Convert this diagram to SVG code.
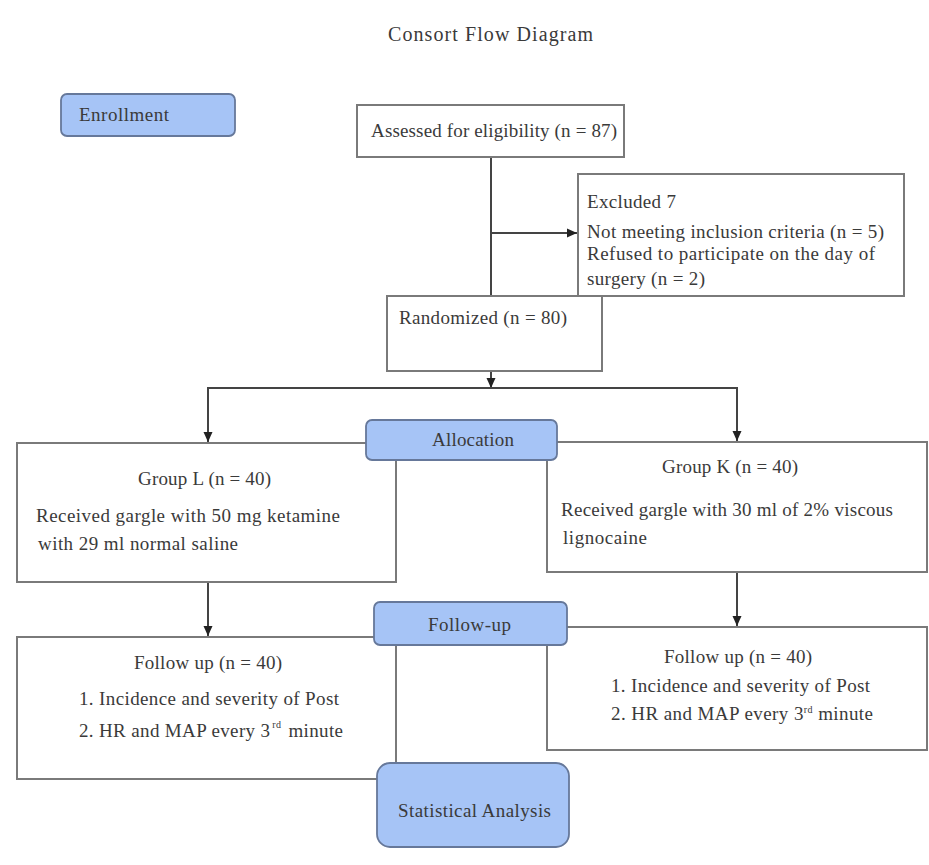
<svg xmlns="http://www.w3.org/2000/svg" width="929" height="865" viewBox="0 0 929 865">
<defs>
<marker id="ah" markerUnits="userSpaceOnUse" markerWidth="10" markerHeight="10" refX="10" refY="5" orient="auto">
<path d="M0,0.5 L10,5 L0,9.5 z" fill="#222"/>
</marker>
<style>
text{font-family:"Liberation Serif","Times New Roman",serif;font-size:19px;fill:#3a3a3a;}
.title{font-size:20px;}
.box{fill:#ffffff;stroke:#7a7a7a;stroke-width:2;}
.lbl{fill:#a6c4f6;stroke:#66789a;stroke-width:1.8;}
.con{fill:none;stroke:#444;stroke-width:2;}
.sup{font-size:10px;}
</style>
</defs>
<rect width="929" height="865" fill="#ffffff"/>
<text class="title" x="388" y="41" textLength="205" lengthAdjust="spacing">Consort Flow Diagram</text>

<g id="connectors">
<line class="con" x1="491" y1="157" x2="491" y2="296"/>
<line class="con" x1="491" y1="233" x2="577" y2="233" marker-end="url(#ah)"/>
<line class="con" x1="491" y1="371" x2="491" y2="388" marker-end="url(#ah)"/>
<polyline class="con" points="208,441 208,388 737,388 737,441"/>
<line class="con" x1="208" y1="400" x2="208" y2="442" marker-end="url(#ah)"/>
<line class="con" x1="737" y1="400" x2="737" y2="441" marker-end="url(#ah)"/>
<line class="con" x1="208" y1="582" x2="208" y2="636" marker-end="url(#ah)"/>
<line class="con" x1="737" y1="572" x2="737" y2="626" marker-end="url(#ah)"/>
</g>

<g id="enrollment">
<rect class="lbl" x="61" y="94" width="174" height="42" rx="6"/>
<text x="79" y="121" textLength="90" lengthAdjust="spacing">Enrollment</text>
</g>

<g id="assessed">
<rect class="box" x="357" y="105" width="267" height="52"/>
<text x="371" y="137" textLength="246" lengthAdjust="spacing">Assessed for eligibility (n = 87)</text>
</g>

<g id="excluded">
<rect class="box" x="578" y="174" width="326" height="122"/>
<text x="587" y="208" textLength="89" lengthAdjust="spacing">Excluded 7</text>
<text x="587" y="238" textLength="297" lengthAdjust="spacing">Not meeting inclusion criteria (n = 5)</text>
<text x="587" y="260" textLength="288" lengthAdjust="spacing">Refused to participate on the day of</text>
<text x="587" y="285" textLength="118" lengthAdjust="spacing">surgery (n = 2)</text>
</g>

<g id="randomized">
<rect class="box" x="387" y="296" width="215" height="75"/>
<text x="399" y="324" textLength="168" lengthAdjust="spacing">Randomized (n = 80)</text>
</g>

<g id="groupL">
<rect class="box" x="17" y="443" width="379" height="139"/>
<text x="138" y="485" textLength="133" lengthAdjust="spacing">Group L (n = 40)</text>
<text x="36" y="522" textLength="304" lengthAdjust="spacing">Received gargle with 50 mg ketamine</text>
<text x="38" y="550" textLength="200" lengthAdjust="spacing">with 29 ml normal saline</text>
</g>

<g id="groupK">
<rect class="box" x="547" y="442" width="380" height="130"/>
<text x="662" y="473" textLength="136" lengthAdjust="spacing">Group K (n = 40)</text>
<text x="561" y="516" textLength="332" lengthAdjust="spacing">Received gargle with 30 ml of 2% viscous</text>
<text x="563" y="544" textLength="84" lengthAdjust="spacing">lignocaine</text>
</g>

<g id="allocation">
<rect class="lbl" x="366" y="420" width="191" height="40" rx="6"/>
<text x="432" y="446" textLength="82" lengthAdjust="spacing">Allocation</text>
</g>

<g id="followupL">
<rect class="box" x="17" y="637" width="379" height="142"/>
<text x="134" y="669" textLength="148" lengthAdjust="spacing">Follow up (n = 40)</text>
<text x="79" y="705" textLength="260" lengthAdjust="spacing">1. Incidence and severity of Post</text>
<text x="79" y="737" textLength="264" lengthAdjust="spacing">2. HR and MAP every 3<tspan class="sup" dx="2" dy="-9">rd</tspan><tspan dx="2" dy="9"> minute</tspan></text>
</g>

<g id="followupK">
<rect class="box" x="547" y="627" width="380" height="123"/>
<text x="664" y="663" textLength="148" lengthAdjust="spacing">Follow up (n = 40)</text>
<text x="611" y="692" textLength="259" lengthAdjust="spacing">1. Incidence and severity of Post</text>
<text x="611" y="720" textLength="262" lengthAdjust="spacing">2. HR and MAP every 3<tspan class="sup" dy="-7">rd</tspan><tspan dy="7"> minute</tspan></text>
</g>

<g id="followup">
<rect class="lbl" x="374" y="602" width="193" height="43" rx="6"/>
<text x="428" y="631" textLength="83" lengthAdjust="spacing">Follow-up</text>
</g>

<g id="statistical">
<rect class="lbl" x="377" y="763" width="192" height="84" rx="13"/>
<text x="398" y="817" textLength="153" lengthAdjust="spacing">Statistical Analysis</text>
</g>
</svg>
